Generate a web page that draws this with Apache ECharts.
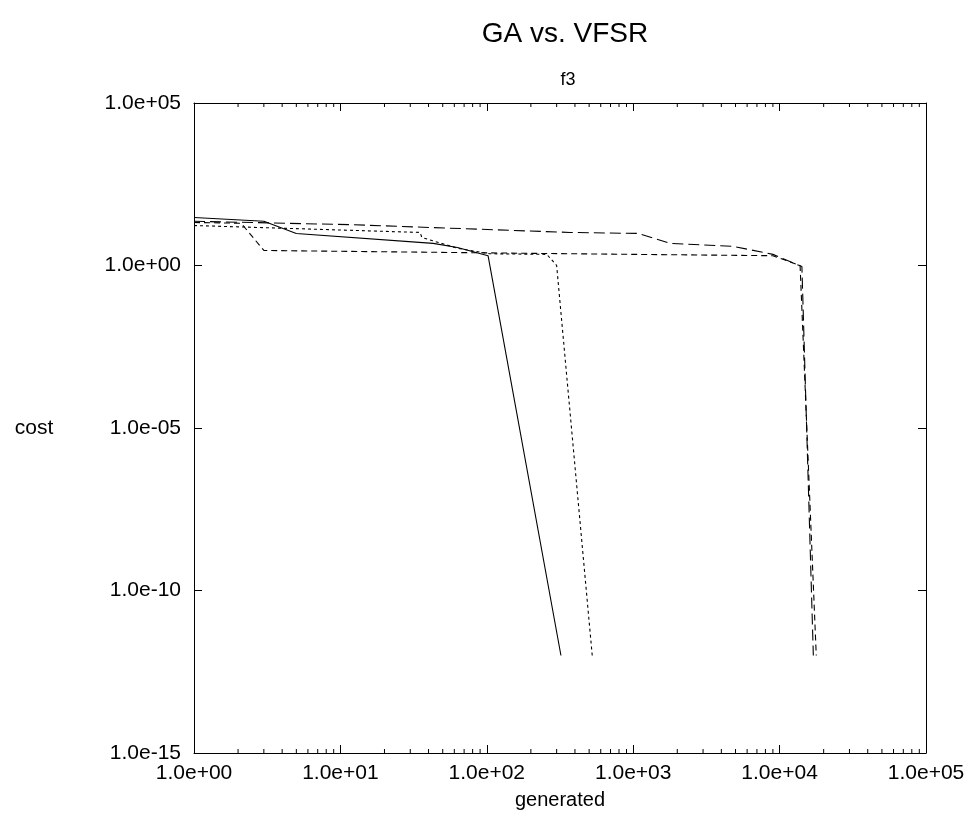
<!DOCTYPE html>
<html>
<head>
<meta charset="utf-8">
<script src="https://cdn.jsdelivr.net/npm/echarts@6/dist/echarts.min.js"></script>
<style>
  html, body { margin: 0; padding: 0; background: #fff; }
  #chart { width: 971px; height: 820px; }
</style>
</head>
<body>
<div id="chart"></div>
<script>
// [generated, cost] pairs
const gaSolid = [[1, 30], [3, 23], [5, 9.7], [43, 4.8], [63, 3.6], [102, 2.0], [321, 1e-12]];
const gaShortDash = [[1, 17], [35, 10.4], [36, 7.3], [63, 3.4], [105, 2.3], [257, 2.2], [300, 1.0], [525, 1e-12]];
const vfsrMidDash = [[1, 21], [2.1, 20], [3, 2.9], [370, 2.3], [9000, 2.0], [13800, 1.0], [17800, 1e-12]];
const vfsrLongDash = [[1, 23], [12, 18], [370, 10.4], [1080, 9.7], [1800, 4.8], [4800, 3.9], [9000, 2.2], [14200, 0.93], [17000, 1e-12]];

const xMin = 1, xMax = 1e5;
const yMin = 1e-15, yMax = 1e5;

const font = "'Liberation Sans', Arial, sans-serif";

// 2..9 per decade minor ticks on the log x axis
const minorX = [];
for (let d = 0; d < 5; d++) {
    for (let m = 2; m <= 9; m++) minorX.push([m * Math.pow(10, d)]);
}

const expLabel = function (v) {
    const e = Math.round(Math.log10(v));
    return '1.0e' + (e < 0 ? '-' : '+') + String(Math.abs(e)).padStart(2, '0');
};

const chart = echarts.init(document.getElementById('chart'));

const lineSeries = (data, type) => ({
    type: 'line',
    data: data,
    symbol: 'none',
    silent: true,
    lineStyle: { color: '#000', width: 1.1, type: type }
});

const option = {
    backgroundColor: '#fff',
    animation: false,
    title: [
        { text: 'GA vs. VFSR', left: 560, top: 15, textAlign: 'center',
          textStyle: { fontFamily: font, fontSize: 28, fontWeight: 'normal', color: '#000' } },
        { text: 'f3', left: 563, top: 66, textAlign: 'center',
          textStyle: { fontFamily: font, fontSize: 18, fontWeight: 'normal', color: '#000' } }
    ],
    grid: { left: 194, right: 45, top: 103, bottom: 67 },
    xAxis: [
        {
            type: 'log', logBase: 10, min: xMin, max: xMax, interval: 1,
            name: 'generated', nameLocation: 'middle', nameGap: 37,
            nameTextStyle: { fontFamily: font, fontSize: 20, color: '#000' },
            axisLine: { lineStyle: { color: '#000', width: 1 } },
            axisTick: { inside: true, length: 8, lineStyle: { color: '#000' } },
            axisLabel: { formatter: expLabel, fontFamily: font, fontSize: 21, color: '#000', margin: 10 },
            splitLine: { show: false }
        },
        {
            type: 'log', logBase: 10, min: xMin, max: xMax, interval: 1, position: 'top',
            axisLine: { lineStyle: { color: '#000', width: 1 } },
            axisTick: { inside: true, length: 8, lineStyle: { color: '#000' } },
            axisLabel: { show: false },
            splitLine: { show: false }
        }
    ],
    yAxis: [
        {
            type: 'log', logBase: 10, min: yMin, max: yMax, interval: 5,
            name: 'cost', nameLocation: 'middle', nameGap: 160, nameRotate: 0,
            nameTextStyle: { fontFamily: font, fontSize: 21, color: '#000', align: 'center', verticalAlign: 'middle' },
            axisLine: { lineStyle: { color: '#000', width: 1 } },
            axisTick: { inside: true, length: 8, lineStyle: { color: '#000' } },
            axisLabel: { formatter: expLabel, fontFamily: font, fontSize: 21, color: '#000', margin: 13 },
            splitLine: { show: false }
        },
        {
            type: 'log', logBase: 10, min: yMin, max: yMax, interval: 5, position: 'right',
            axisLine: { lineStyle: { color: '#000', width: 1 } },
            axisTick: { inside: true, length: 8, lineStyle: { color: '#000' } },
            axisLabel: { show: false },
            splitLine: { show: false }
        }
    ],
    series: [
        lineSeries(gaSolid, 'solid'),
        lineSeries(gaShortDash, [3, 3]),
        lineSeries(vfsrMidDash, [6, 4]),
        lineSeries(vfsrLongDash, [11, 5]),
        {
            type: 'custom',
            data: minorX,
            silent: true,
            clip: false,
            renderItem: function (params, api) {
                const v = api.value(0);
                const b = api.coord([v, yMin]);
                const t = api.coord([v, yMax]);
                const style = { stroke: '#000', lineWidth: 1 };
                return {
                    type: 'group',
                    children: [
                        { type: 'line', shape: { x1: b[0], y1: b[1], x2: b[0], y2: b[1] - 4 }, style: style },
                        { type: 'line', shape: { x1: t[0], y1: t[1], x2: t[0], y2: t[1] + 4 }, style: style }
                    ]
                };
            }
        }
    ]
};

chart.setOption(option);
</script>
</body>
</html>
